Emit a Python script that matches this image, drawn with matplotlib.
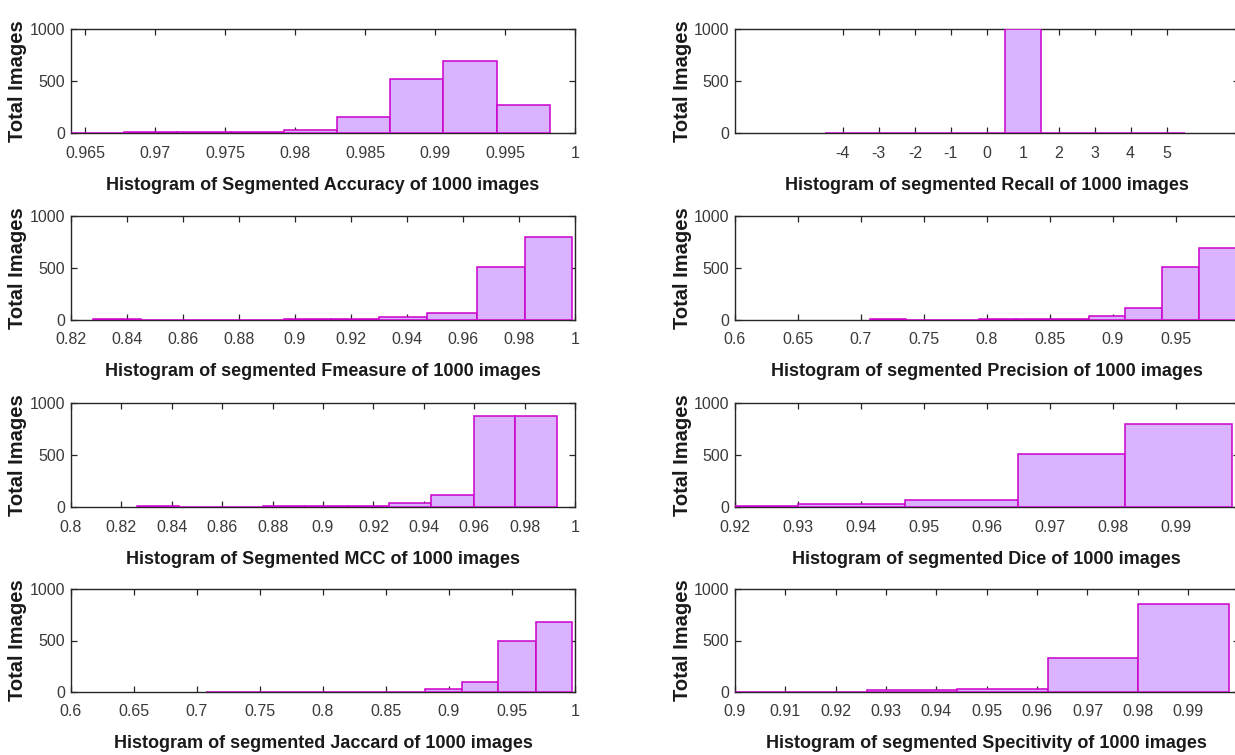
import matplotlib
matplotlib.use("Agg")
import matplotlib.pyplot as plt
from matplotlib import font_manager

# ---------------- data ----------------
acc_edges = [0.9640, 0.9678, 0.9716, 0.9754, 0.9792, 0.9830, 0.9868, 0.9906, 0.9944, 0.9982]
acc_counts = [0, 8, 10, 12, 30, 152, 517, 689, 267]
acc_ticks = [0.965, 0.97, 0.975, 0.98, 0.985, 0.99, 0.995, 1.0]

rec_edges = [-4.5, -3.5, -2.5, -1.5, -0.5, 0.5, 1.5, 2.5, 3.5, 4.5, 5.5]
rec_counts = [0, 0, 0, 0, 0, 1000, 0, 0, 0, 0]
rec_ticks = [-4, -3, -2, -1, 0, 1, 2, 3, 4, 5]

fm_edges = [0.828, 0.845, 0.862, 0.879, 0.896, 0.913, 0.930, 0.947, 0.965, 0.982, 0.999]
fm_counts = [12, 0, 0, 0, 8, 10, 30, 70, 505, 800]
fm_ticks = [0.82, 0.84, 0.86, 0.88, 0.9, 0.92, 0.94, 0.96, 0.98, 1.0]

pr_edges = [0.707, 0.736, 0.765, 0.794, 0.823, 0.852, 0.881, 0.910, 0.939, 0.969, 0.998]
pr_counts = [12, 0, 0, 8, 10, 12, 40, 115, 505, 690]
pr_ticks = [0.6, 0.65, 0.7, 0.75, 0.8, 0.85, 0.9, 0.95, 1.0]

mcc_edges = [0.826, 0.843, 0.859, 0.876, 0.893, 0.910, 0.926, 0.943, 0.960, 0.976, 0.993]
mcc_counts = [12, 0, 0, 8, 10, 12, 42, 113, 875, 875]
mcc_ticks = [0.8, 0.82, 0.84, 0.86, 0.88, 0.9, 0.92, 0.94, 0.96, 0.98, 1.0]

dice_edges = [0.828, 0.845, 0.862, 0.879, 0.896, 0.913, 0.930, 0.947, 0.965, 0.982, 0.999]
dice_counts = [12, 0, 0, 0, 8, 10, 30, 72, 505, 802]
dice_ticks = [0.92, 0.93, 0.94, 0.95, 0.96, 0.97, 0.98, 0.99, 1.0]

jac_edges = [0.707, 0.736, 0.765, 0.794, 0.823, 0.852, 0.881, 0.910, 0.939, 0.969, 0.998]
jac_counts = [0, 0, 0, 0, 0, 0, 29, 97, 500, 683]
jac_ticks = [0.6, 0.65, 0.7, 0.75, 0.8, 0.85, 0.9, 0.95, 1.0]

spe_edges = [0.8902, 0.9082, 0.9262, 0.9441, 0.9621, 0.9801, 0.9981]
spe_counts = [0, 0, 15, 32, 330, 857]
spe_ticks = [0.9, 0.91, 0.92, 0.93, 0.94, 0.95, 0.96, 0.97, 0.98, 0.99, 1.0]

y_ticks = [0, 500, 1000]

titles = [
    "Histogram of Segmented Accuracy of 1000 images",
    "Histogram of segmented Recall of 1000 images",
    "Histogram of segmented Fmeasure of 1000 images",
    "Histogram of segmented Precision of 1000 images",
    "Histogram of Segmented MCC of 1000 images",
    "Histogram of segmented Dice of 1000 images",
    "Histogram of segmented Jaccard of 1000 images",
    "Histogram of segmented Specitivity of 1000 images",
]
ylabel_text = "Total Images"

# ---------------- style / layout ----------------
available = {f.name for f in font_manager.fontManager.ttflist}
narrow = "Liberation Sans Narrow" if "Liberation Sans Narrow" in available else "Liberation Sans"
plt.rcParams["font.family"] = [narrow, "DejaVu Sans"]
plt.rcParams["axes.unicode_minus"] = False
is_narrow = narrow.endswith("Narrow")

FACE = "#DAB3FF"
EDGE = "#CC00CC"
DARK = "#262626"
TICKTXT = "#3a3a3a"

tick_fs = 12.5 if is_narrow else 11.5
title_fs = 14 if is_narrow else 13

W, H = 1235, 755
fig = plt.figure(figsize=(W / 100, H / 100), dpi=100)

cols_px = [(71, 575), (735, 1238.5)]
rows_px = [(29, 133), (216, 320), (403, 507), (589, 692)]

panels = [
    (acc_edges, acc_counts, acc_ticks, (0.9640, 1.0)),
    (rec_edges, rec_counts, rec_ticks, (-7, 7)),
    (fm_edges, fm_counts, fm_ticks, (0.82, 1.0)),
    (pr_edges, pr_counts, pr_ticks, (0.6, 1.0)),
    (mcc_edges, mcc_counts, mcc_ticks, (0.8, 1.0)),
    (dice_edges, dice_counts, dice_ticks, (0.92, 1.0)),
    (jac_edges, jac_counts, jac_ticks, (0.6, 1.0)),
    (spe_edges, spe_counts, spe_ticks, (0.9, 1.0)),
]

for i, (edges, counts, ticks, xlim) in enumerate(panels):
    r, c = divmod(i, 2)
    x0, x1 = cols_px[c]
    t0, b0 = rows_px[r]
    ax = fig.add_axes([x0 / W, 1 - b0 / H, (x1 - x0) / W, (b0 - t0) / H])
    ax.hist(edges[:-1], bins=edges, weights=counts, histtype="bar",
            facecolor=FACE, edgecolor=EDGE, linewidth=1.1, zorder=3)
    ax.set_xlim(*xlim)
    ax.set_ylim(0, 1000)
    ax.set_xticks(ticks)
    ax.set_xticklabels([f"{t:g}" for t in ticks])
    ax.set_yticks(y_ticks)
    ax.set_yticklabels([f"{t:g}" for t in y_ticks])
    ax.tick_params(axis="both", direction="in", length=4, width=0.9,
                   colors=DARK, labelcolor=TICKTXT, labelsize=tick_fs,
                   top=True, right=True)
    ax.tick_params(axis="x", pad=9)
    ax.tick_params(axis="y", pad=4)
    for s in ax.spines.values():
        s.set_color(DARK)
        s.set_linewidth(1.0)
        s.set_zorder(2)
    ax.set_xlabel(titles[i], fontsize=title_fs, fontweight="bold", color="#1a1a1a")
    ax.xaxis.label.set_va("center")
    ax.xaxis.set_label_coords(0.5, -52 / (b0 - t0))
    ax.set_ylabel(ylabel_text, fontsize=14.5, fontweight="bold", color="#1a1a1a",
                  family=["Liberation Sans", "DejaVu Sans"])
    ax.yaxis.label.set_va("center")
    ax.yaxis.set_label_coords(-53 / (x1 - x0), 0.5)

fig.savefig("out.png", dpi=100)
